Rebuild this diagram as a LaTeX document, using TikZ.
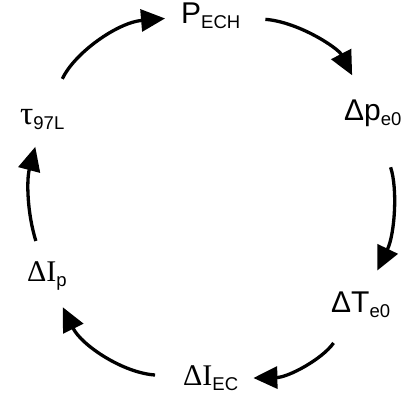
\documentclass[tikz,border=0pt]{standalone}
\usepackage{fontspec}
\setmainfont{Liberation Sans}
\newfontfamily\symbfont{Liberation Serif}
\usetikzlibrary{arrows.meta}
\newcommand{\lowsub}[1]{\raisebox{-5pt}{\fontsize{18.5}{19}\selectfont #1}}

\begin{document}
\begin{tikzpicture}[x=1pt,y=1pt]
   \tikzstyle{lbl}=[anchor=base west, inner sep=0pt, font=\fontsize{30}{32}\selectfont]
   \tikzstyle{arr}=[line width=3.3pt, -{Triangle[length=24pt,width=22pt]}]
   \useasboundingbox (0,0) rectangle (409,396);
   %% labels
\node[lbl] (pech) at (181,372) {P\lowsub{ECH}};
\node[lbl] (dpe) at (344,275) {Δp\lowsub{e0}};
\node[lbl] (dte) at (331,83) {ΔT\lowsub{e0}};
\node[lbl] (diec) at (183,11) {{\symbfont ΔI}\lowsub{EC}};
\node[lbl] (dip) at (27,114) {{\symbfont ΔI}\lowsub{p}};
\node[lbl] (tau) at (20,271) {{\symbfont\fontsize{33}{34}\selectfont τ}\lowsub{97L}};
   %% arrows
\draw[arr, shorten <=34pt, shorten >=16pt] (tau) to[bend left=30] (pech);
\draw[arr, shorten <=25pt, shorten >=28pt] (pech) to[bend left=29] (dpe);
\draw[arr, shorten <=42pt, shorten >=24pt] (dpe) to[bend left=22] (dte);
\draw[arr, shorten <=30pt, shorten >=15pt] (dte) to[bend left=27] (diec);
\draw[arr, shorten <=28pt, shorten >=18pt] (diec) to[bend left=30] (dip);
\draw[arr, shorten <=22pt, shorten >=17pt] (dip) to[bend left=16] (tau);
\end{tikzpicture}
\end{document}
